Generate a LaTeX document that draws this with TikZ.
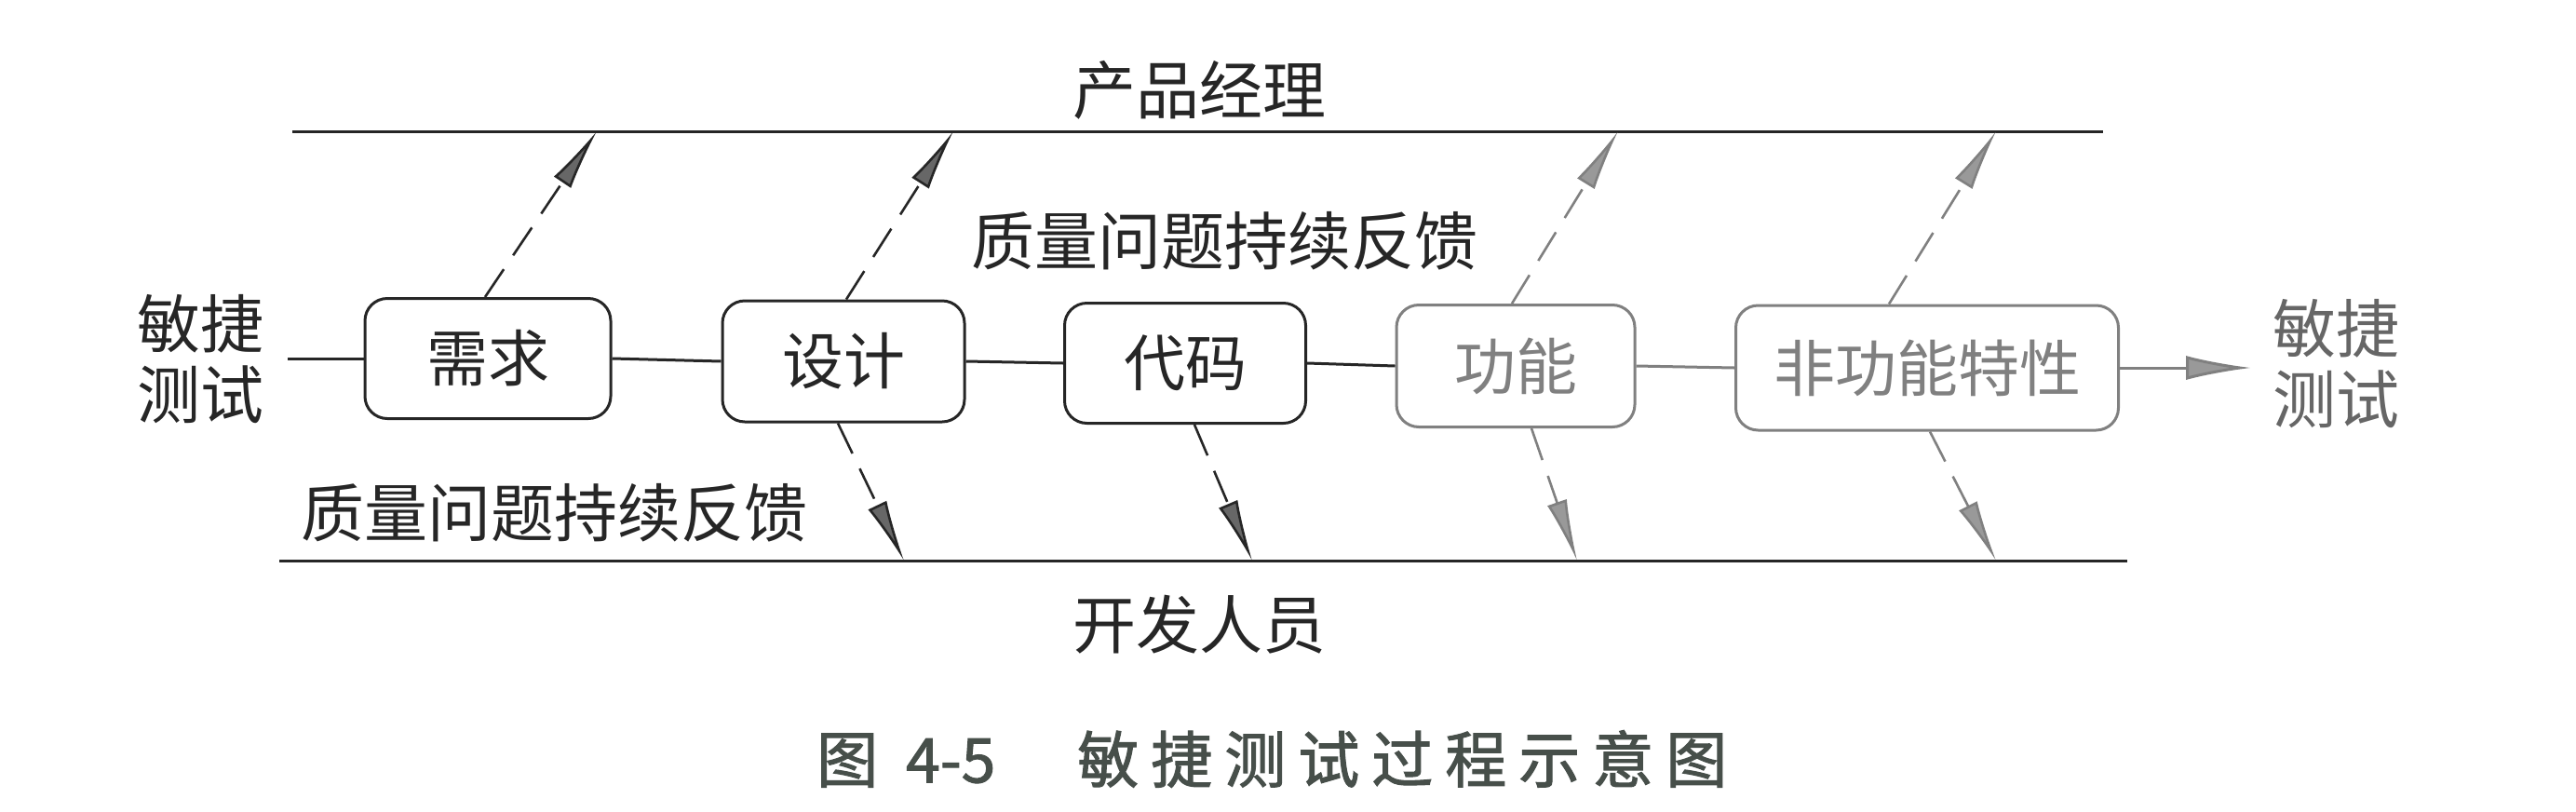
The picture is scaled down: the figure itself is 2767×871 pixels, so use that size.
\documentclass[tikz,border=0pt]{standalone}
\usepackage{fontspec}
\setmainfont{Noto Sans CJK SC}
\newfontfamily\capfont[FakeBold=1.6]{Noto Sans CJK SC}
\usetikzlibrary{arrows.meta,calc}
\definecolor{ink}{gray}{0.15}
\definecolor{faded}{gray}{0.50}
\definecolor{capink}{rgb}{0.28,0.31,0.29}
\newcommand\capgap{\hspace{13pt}}
\begin{document}
\begin{tikzpicture}[x=1pt,y=-1pt,
  txt/.style={font=\fontsize{68}{76}\selectfont, inner sep=0pt, text=ink},
  stage/.style={draw=ink, line width=3pt, rounded corners=24pt, inner sep=0pt,
    font=\fontsize{66}{76}\selectfont, text=ink},
  rail/.style={draw=ink, line width=3pt},
  flow/.style={draw=ink, line width=3pt},
  fb/.style={draw=ink, line width=2.6pt, dash pattern=on 36pt off 18pt,
    -{Latex[length=66pt,width=22pt,fill=ink!70]}},
  fbf/.style={fb, draw=faded, -{Latex[length=66pt,width=22pt,fill=faded!80]}}
]
\useasboundingbox (0,0) rectangle (2767,871);
\fill[white] (0,0) rectangle (2767,871);

% rails
\coordinate (tl) at (314,141);
\coordinate (tr) at (2259,141);
\coordinate (bl) at (300,602);
\coordinate (br) at (2285,602);
\draw[rail] (tl) -- (tr);
\draw[rail] (bl) -- (br);

\node[txt] (pm) at (1288,97) {产品经理};
\node[txt] (dev) at (1288,671) {开发人员};
\node[txt] (fbtop) at (1315,259) {质量问题持续反馈};
\node[txt] (fbbot) at (595,551) {质量问题持续反馈};

% stages
\node[stage, minimum width=264pt, minimum height=129pt] (req) at (524,385) {需求};
\node[stage, minimum width=260pt, minimum height=130pt] (des) at (906,388) {设计};
\node[stage, minimum width=259pt, minimum height=129pt] (code) at (1273,390) {代码};
\node[stage, draw=faded, text=faded, minimum width=256pt, minimum height=131pt] (func) at (1628,393) {功能};
\node[stage, draw=faded, text=faded, minimum width=411pt, minimum height=134pt] (nf) at (2070,395) {非功能特性};

\node[txt, align=center] (lstart) at (215,386) {敏捷\\测试};
\node[txt, align=center, text=faded!80!black] (lend) at (2509,391) {敏捷\\测试};

\coordinate (in) at (309,385);
\coordinate (out) at (2418,395);
\draw[flow] (in) -- (req.west);
\draw[flow] (req.east) -- (des.west);
\draw[flow] (des.east) -- (code.west);
\draw[flow] (code.east) -- (func.west);
\draw[flow, draw=faded] (func.east) -- (nf.west);
\draw[flow, draw=faded, -{Latex[length=70pt,width=26pt,fill=faded!80]}] (nf.east) -- (out);

% feedback tips
\coordinate (u1) at (641,141);
\coordinate (u2) at (1024,141);
\coordinate (u3) at (1738,141);
\coordinate (u4) at (2144,141);
\coordinate (d1) at (971,602);
\coordinate (d2) at (1345,602);
\coordinate (d3) at (1694,602);
\coordinate (d4) at (2144,602);

\draw[fb] ($(req.north)+(-3,0)$) -- (u1);
\draw[fb] ($(des.north)+(3,0)$) -- (u2);
\draw[fbf] ($(func.north)+(-4,0)$) -- (u3);
\draw[fbf] ($(nf.north)+(-41,0)$) -- (u4);
\draw[fb] ($(des.south)+(-6,0)$) -- (d1);
\draw[fb] ($(code.south)+(10,0)$) -- (d2);
\draw[fbf] ($(func.south)+(17,0)$) -- (d3);
\draw[fbf] ($(nf.south)+(3,0)$) -- (d4);

% caption
\node[inner sep=0pt, anchor=west, text=capink, font=\capfont\fontsize{66}{76}\selectfont] (cap) at (877,815)
  {图\hspace{30pt}4-5\hspace{88pt}敏\capgap 捷\capgap 测\capgap 试\capgap 过\capgap 程\capgap 示\capgap 意\capgap 图};
\end{tikzpicture}
\end{document}
